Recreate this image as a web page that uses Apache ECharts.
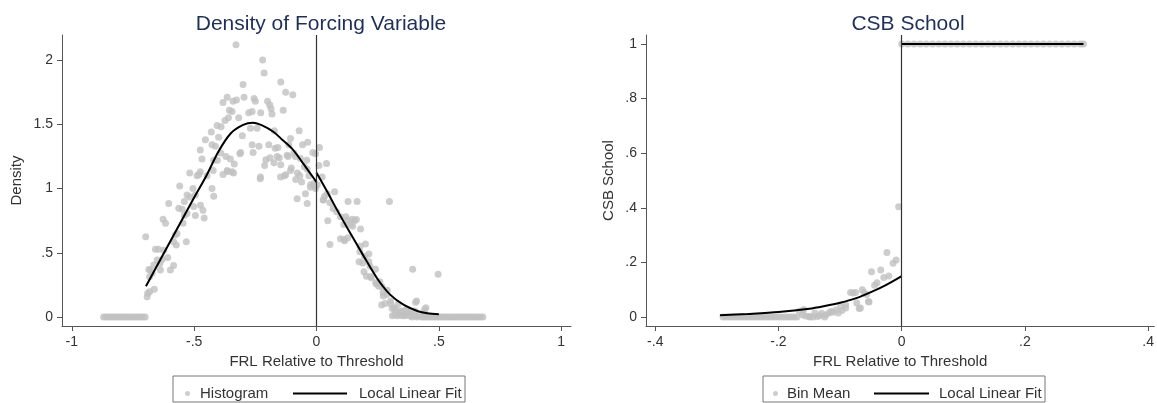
<!DOCTYPE html>
<html>
<head>
<meta charset="utf-8">
<script src="https://cdn.jsdelivr.net/npm/echarts@6/dist/echarts.min.js"></script>
<style>
  html, body { margin: 0; padding: 0; background: #fff; }
  #chart { width: 1157px; height: 403px; }
</style>
</head>
<body>
<div id="chart"></div>
<script>
// ---- left panel: density of forcing variable ----
const histX = [
  -0.87, -0.86, -0.85, -0.84, -0.83, -0.82, -0.81, -0.80, -0.79, -0.78, -0.77, -0.76, -0.75, -0.74, -0.73, -0.72, -0.71, -0.70,
  -0.698, -0.692, -0.690, -0.682, -0.682, -0.685, -0.679, -0.672, -0.665, -0.663, -0.658, -0.651, -0.645, -0.640, -0.638, -0.631,
  -0.627, -0.624, -0.617, -0.608, -0.604, -0.597, -0.584, -0.584, -0.577, -0.573, -0.570, -0.563, -0.559, -0.549, -0.545, -0.540,
  -0.540, -0.532, -0.529, -0.529, -0.518, -0.518, -0.505, -0.502, -0.495, -0.495, -0.488, -0.481, -0.475, -0.475, -0.474, -0.468,
  -0.464, -0.459, -0.454, -0.447, -0.430, -0.427, -0.427, -0.422, -0.420, -0.420, -0.413, -0.406, -0.405, -0.400, -0.391, -0.390,
  -0.382, -0.382, -0.374, -0.370, -0.365, -0.365, -0.363, -0.360, -0.356, -0.352, -0.345, -0.345, -0.341, -0.339, -0.336, -0.329,
  -0.327, -0.318, -0.313, -0.310, -0.303, -0.300, -0.296, -0.277, -0.270, -0.263, -0.263, -0.259, -0.255, -0.250, -0.243, -0.235,
  -0.230, -0.229, -0.228, -0.220, -0.214, -0.212, -0.207, -0.200, -0.195, -0.191, -0.190, -0.186, -0.182, -0.174, -0.172, -0.169,
  -0.161, -0.158, -0.152, -0.147, -0.146, -0.146, -0.136, -0.131, -0.126, -0.126, -0.120, -0.116, -0.113, -0.106, -0.106, -0.103,
  -0.097, -0.093, -0.086, -0.085, -0.079, -0.078, -0.071, -0.068, -0.066, -0.061, -0.057, -0.050, -0.045, -0.040, -0.038, -0.038,
  -0.036, -0.031, -0.025, -0.024, -0.015, -0.011, -0.009, -0.004, -0.004, 0.003, 0.010, 0.012, 0.023, 0.027, 0.029, 0.033,
  0.041, 0.044, 0.046, 0.055, 0.055, 0.068, 0.074, 0.082, 0.098, 0.098, 0.112, 0.113, 0.115, 0.120, 0.125, 0.128,
  0.129, 0.139, 0.146, 0.148, 0.155, 0.163, 0.166, 0.174, 0.177, 0.178, 0.180, 0.189, 0.194, 0.196, 0.200, 0.204,
  0.214, 0.214, 0.219, 0.221, 0.224, 0.241, 0.242, 0.245, 0.254, 0.259, 0.266, 0.268, 0.272, 0.273, 0.280, 0.287,
  0.289, 0.298, 0.302, 0.303, 0.309, 0.318, 0.323, 0.333, 0.343, 0.348, 0.364, 0.371, 0.379, 0.384, 0.393, 0.402,
  0.405, 0.409, 0.440, 0.442, 0.447, 0.497,
  0.31, 0.32, 0.33, 0.34, 0.35, 0.36, 0.37, 0.38, 0.39, 0.40, 0.41, 0.42, 0.43, 0.44, 0.45, 0.46, 0.47, 0.48, 0.49, 0.50,
  0.51, 0.52, 0.53, 0.54, 0.55, 0.56, 0.57, 0.58, 0.59, 0.60, 0.61, 0.62, 0.63, 0.64, 0.65, 0.66, 0.67, 0.68
];
const histY = [
  0, 0, 0, 0, 0, 0, 0, 0, 0, 0, 0, 0, 0, 0, 0, 0, 0, 0,
  0.625, 0.158, 0.184, 0.197, 0.314, 0.370, 0.366, 0.340, 0.405, 0.216, 0.527, 0.443, 0.527, 0.417, 0.366, 0.448,
  0.760, 0.520, 0.730, 0.463, 0.884, 0.366, 0.400, 0.585, 0.638, 0.560, 0.650, 0.846, 1.020, 0.838, 0.730, 0.790,
  0.900, 0.585, 0.806, 0.950, 0.935, 1.120, 1.000, 0.860, 0.790, 0.950, 1.100, 1.110, 1.130, 1.300, 0.870, 1.230,
  0.830, 0.770, 1.380, 1.100, 1.440, 1.000, 1.340, 1.140, 0.940, 1.220, 1.330, 1.490, 1.220, 1.400, 1.276, 1.480,
  1.110, 1.670, 1.530, 1.250, 1.140, 1.710, 1.133, 1.550, 1.610, 1.230, 1.130, 1.600, 1.680, 1.120, 1.190, 2.120,
  1.690, 1.550, 1.270, 1.280, 1.410, 1.810, 1.710, 1.590, 1.470, 1.600, 1.340, 1.280, 1.700, 1.680, 1.470, 1.330,
  1.076, 1.090, 1.590, 2.000, 1.900, 1.180, 1.224, 1.680, 1.340, 1.650, 1.240, 1.620, 1.580, 1.200, 1.450, 1.314,
  1.250, 1.320, 1.240, 1.090, 1.830, 1.185, 1.610, 1.100, 1.750, 1.107, 1.260, 1.250, 1.340, 1.390, 1.140, 1.160,
  1.730, 1.276, 1.250, 1.070, 0.920, 1.120, 1.450, 1.100, 1.234, 1.050, 1.340, 1.170, 0.960, 1.220, 0.884, 1.150,
  1.360, 1.100, 1.010, 1.030, 1.280, 1.040, 1.017, 1.270, 1.000, 1.030, 1.180, 1.320, 1.090, 0.910, 0.913, 0.940,
  1.195, 0.960, 0.750, 0.890, 0.565, 0.845, 0.975, 0.820, 0.780, 0.610, 0.720, 0.603, 0.594, 0.780, 0.753, 0.616,
  0.900, 0.720, 0.760, 0.706, 0.750, 0.758, 0.900, 0.430, 0.508, 0.551, 0.685, 0.420, 0.353, 0.473, 0.568, 0.318,
  0.490, 0.430, 0.396, 0.315, 0.305, 0.372, 0.266, 0.257, 0.240, 0.275, 0.093, 0.235, 0.189, 0.163, 0.106, 0.176,
  0.209, 0.900, 0.106, 0.124, 0.067, 0.072, 0.054, 0.098, 0.041, 0.047, 0.054, 0.060, 0.021, 0.028, 0.372, 0.047,
  0.115, 0.124, 0.034, 0.058, 0.072, 0.332,
  0.01, 0.02, 0.01, 0.02, 0.01, 0.01, 0.02, 0.01, 0, 0.01, 0, 0.01, 0, 0, 0, 0, 0, 0, 0, 0,
  0, 0, 0, 0, 0, 0, 0, 0, 0, 0, 0, 0, 0, 0, 0, 0, 0, 0
];
// local linear fit, left and right of threshold
const fitLeftX = [-0.697, -0.65, -0.60, -0.55, -0.50, -0.45, -0.40, -0.35, -0.30, -0.26, -0.22, -0.175, -0.14, -0.10, -0.06, -0.03, 0];
const fitLeftY = [0.24, 0.405, 0.58, 0.755, 0.93, 1.10, 1.29, 1.43, 1.495, 1.512, 1.49, 1.44, 1.38, 1.31, 1.21, 1.13, 1.05];
const fitRightX = [0, 0.044, 0.085, 0.139, 0.194, 0.248, 0.302, 0.357, 0.412, 0.453, 0.500];
const fitRightY = [1.123, 0.975, 0.83, 0.65, 0.47, 0.30, 0.172, 0.094, 0.047, 0.029, 0.021];

const leftXTicks = [-1, -0.5, 0, 0.5, 1];
const leftXLabels = ['-1', '-.5', '0', '.5', '1'];
const leftYTicks = [0, 0.5, 1, 1.5, 2];
const leftYLabels = ['0', '.5', '1', '1.5', '2'];

// ---- right panel: CSB school ----
const binX = [
  -0.29, -0.285, -0.28, -0.275, -0.27, -0.265, -0.26, -0.255, -0.25, -0.245, -0.24, -0.235, -0.23, -0.225, -0.22, -0.215,
  -0.21, -0.205, -0.20, -0.195, -0.19, -0.185, -0.18, -0.175, -0.17,
  -0.166, -0.161, -0.159, -0.156, -0.150, -0.149, -0.144, -0.141, -0.137, -0.133, -0.130, -0.125, -0.123, -0.118, -0.115,
  -0.112, -0.107, -0.103, -0.099, -0.097, -0.091, -0.091, -0.083, -0.079, -0.075, -0.073, -0.069, -0.067, -0.064, -0.061,
  -0.057, -0.054, -0.053, -0.049, -0.044, -0.040, -0.034, -0.029, -0.024, -0.021, -0.014, -0.009, -0.005,
  0.000, 0.010, 0.020, 0.030, 0.040, 0.050, 0.060, 0.070, 0.080, 0.090, 0.100, 0.110, 0.120, 0.130, 0.140, 0.150,
  0.160, 0.170, 0.180, 0.190, 0.200, 0.210, 0.220, 0.230, 0.240, 0.250, 0.260, 0.270, 0.280, 0.290, 0.295
];
const binY = [
  0, 0, 0, 0, 0, 0, 0, 0, 0, 0, 0, 0, 0, 0, 0, 0,
  0, 0, 0, 0, 0, 0, 0, 0, 0,
  0.021, 0.008, 0.027, 0.004, 0.002, 0, 0, 0.015, 0.002, 0.005, 0.014, 0, 0.008, 0.015, 0.020,
  0.017, 0.026, 0.015, 0.038, 0.024, 0.044, 0.033, 0.090, 0.088, 0.090, 0.051, 0.031, 0.033, 0.100, 0.090,
  0.082, 0.057, 0.055, 0.166, 0.116, 0.125, 0.172, 0.145, 0.236, 0.150, 0.197, 0.209, 0.404,
  1, 1, 1, 1, 1, 1, 1, 1, 1, 1, 1, 1, 1, 1, 1, 1,
  1, 1, 1, 1, 1, 1, 1, 1, 1, 1, 1, 1, 1, 1, 1
];
const csbFitLeftX = [-0.295, -0.25, -0.20, -0.15, -0.125, -0.10, -0.075, -0.05, -0.025, 0];
const csbFitLeftY = [0.006, 0.011, 0.018, 0.030, 0.040, 0.052, 0.068, 0.091, 0.118, 0.150];
const csbFitRightX = [0, 0.295];
const csbFitRightY = [1, 1];

const rightXTicks = [-0.4, -0.2, 0, 0.2, 0.4];
const rightXLabels = ['-.4', '-.2', '0', '.2', '.4'];
const rightYTicks = [0, 0.2, 0.4, 0.6, 0.8, 1];
const rightYLabels = ['0', '.2', '.4', '.6', '.8', '1'];

const zip = (xs, ys) => xs.map((x, i) => [x, ys[i]]);
const FONT = 'Liberation Sans, Arial, sans-serif';
const INK = '#333';
const DOT = '#c0c0c0';
const NAVY = '#1e2f5c';

function makeAxis(min, max, ticks, labels, name, extra) {
  return Object.assign({
    type: 'value',
    min: min,
    max: max,
    name: name,
    nameLocation: 'middle',
    nameTextStyle: { color: INK, fontSize: 15, fontFamily: FONT },
    splitLine: { show: false },
    axisLine: { show: true, onZero: false, lineStyle: { color: '#555', width: 1 } },
    axisTick: { show: true, length: 5, customValues: ticks, lineStyle: { color: '#555' } },
    axisLabel: {
      customValues: ticks,
      color: INK,
      fontSize: 14,
      fontFamily: FONT,
      margin: 9,
      formatter: v => labels[ticks.findIndex(t => Math.abs(t - v) < 1e-9)]
    }
  }, extra);
}

const cutLine = {
  silent: true,
  symbol: 'none',
  label: { show: false },
  lineStyle: { color: '#333', width: 1.2, type: 'solid' },
  data: [{ xAxis: 0 }]
};

function legendText(pad) {
  return { color: INK, fontSize: 15, fontFamily: FONT, padding: [0, 0, 0, pad] };
}

const chart = echarts.init(document.getElementById('chart'));
chart.setOption({
  backgroundColor: '#fff',
  animation: false,
  title: [
    { text: 'Density of Forcing Variable', left: 316, top: 9, textAlign: 'center',
      textStyle: { color: NAVY, fontSize: 21, fontWeight: 'normal', fontFamily: FONT } },
    { text: 'CSB School', left: 903, top: 9, textAlign: 'center',
      textStyle: { color: NAVY, fontSize: 21, fontWeight: 'normal', fontFamily: FONT } }
  ],
  grid: [
    { left: 62, top: 35, width: 509, height: 291 },
    { left: 646, top: 35, width: 511, height: 291 }
  ],
  xAxis: [
    makeAxis(-1.04, 1.04, leftXTicks, leftXLabels, 'FRL Relative to Threshold', { gridIndex: 0, nameGap: 25 }),
    makeAxis(-0.415, 0.41, rightXTicks, rightXLabels, 'FRL Relative to Threshold', { gridIndex: 1, nameGap: 25 })
  ],
  yAxis: [
    makeAxis(-0.07, 2.195, leftYTicks, leftYLabels, 'Density', { gridIndex: 0, nameGap: 38 }),
    makeAxis(-0.033, 1.033, rightYTicks, rightYLabels, 'CSB School', { gridIndex: 1, nameGap: 30 })
  ],
  legend: [
    { data: ['Histogram'], left: 180, top: 381, itemWidth: 5, itemHeight: 5, selectedMode: false,
      textStyle: legendText(5) },
    { data: [{ name: 'Local Linear Fit', icon: 'rect' }], left: 288, top: 381, itemWidth: 54, itemHeight: 2,
      selectedMode: false, textStyle: legendText(7) },
    { data: ['Bin Mean'], left: 768, top: 381, itemWidth: 5, itemHeight: 5, selectedMode: false,
      textStyle: legendText(4) },
    { data: [{ name: 'Local Linear Fit', icon: 'rect' }], left: 869, top: 381, itemWidth: 55, itemHeight: 2,
      selectedMode: false, textStyle: legendText(5) }
  ],
  graphic: [
    { type: 'rect', shape: { x: 173, y: 376, width: 292, height: 26 },
      style: { fill: 'none', stroke: '#777', lineWidth: 1 }, silent: true },
    { type: 'rect', shape: { x: 763, y: 376, width: 282, height: 26 },
      style: { fill: 'none', stroke: '#777', lineWidth: 1 }, silent: true }
  ],
  series: [
    { name: 'Histogram', type: 'scatter', xAxisIndex: 0, yAxisIndex: 0, symbolSize: 7,
      itemStyle: { color: DOT }, data: zip(histX, histY), markLine: cutLine, z: 2 },
    { name: 'Local Linear Fit', type: 'line', xAxisIndex: 0, yAxisIndex: 0, symbol: 'none', smooth: 0.3,
      lineStyle: { color: '#000', width: 2 }, itemStyle: { color: '#000' }, data: zip(fitLeftX, fitLeftY), z: 3 },
    { name: 'Local Linear Fit', type: 'line', xAxisIndex: 0, yAxisIndex: 0, symbol: 'none', smooth: 0.3,
      lineStyle: { color: '#000', width: 2 }, itemStyle: { color: '#000' }, data: zip(fitRightX, fitRightY), z: 3 },
    { name: 'Bin Mean', type: 'scatter', xAxisIndex: 1, yAxisIndex: 1, symbolSize: 7,
      itemStyle: { color: DOT }, data: zip(binX, binY), markLine: cutLine, z: 2 },
    { name: 'Local Linear Fit', type: 'line', xAxisIndex: 1, yAxisIndex: 1, symbol: 'none', smooth: 0.3,
      lineStyle: { color: '#000', width: 2 }, itemStyle: { color: '#000' }, data: zip(csbFitLeftX, csbFitLeftY), z: 3 },
    { name: 'Local Linear Fit', type: 'line', xAxisIndex: 1, yAxisIndex: 1, symbol: 'none',
      lineStyle: { color: '#000', width: 2 }, itemStyle: { color: '#000' }, data: zip(csbFitRightX, csbFitRightY), z: 3 }
  ]
});
</script>
</body>
</html>
